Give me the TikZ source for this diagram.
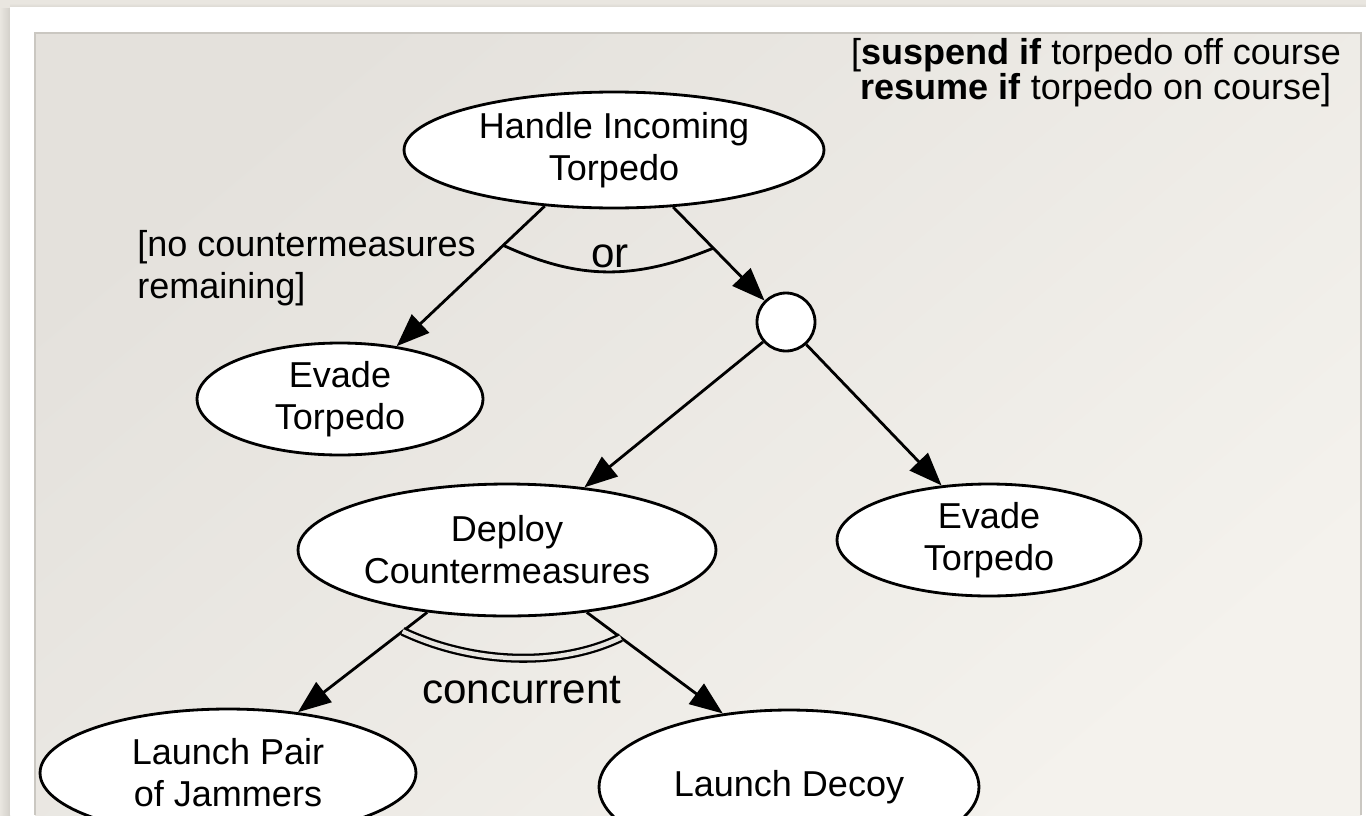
\documentclass[tikz,border=0pt]{standalone}
\usepackage{fontspec}
\setmainfont{Liberation Sans}
\usetikzlibrary{arrows.meta,shapes.geometric}

\definecolor{canvas}{HTML}{E9E6E0}
\definecolor{matshadow}{HTML}{D3D0CA}
\definecolor{paneltop}{HTML}{E4E1DC}
\definecolor{panelmid}{HTML}{E7E5E0}
\definecolor{panelbottom}{HTML}{F4F2ED}
\definecolor{paneledge}{HTML}{CAC7C1}

\begin{document}
\begin{tikzpicture}[x=0.02cm, y=-0.02cm,
  every node/.style={font=\fontsize{20.5}{24}\selectfont},
  task/.style={ellipse, draw=black, fill=white, line width=1.6pt,
    inner sep=0pt, align=center},
  junction/.style={circle, draw=black, fill=white, line width=1.6pt,
    inner sep=0pt, minimum size=1.16cm},
  link/.style={line width=1.6pt, -{Triangle[length=0.66cm, width=0.5cm]}},
  guard/.style={inner sep=0pt},
  bigword/.style={inner sep=0pt, font=\fontsize{24}{28}\selectfont},
  orbar/.style={line width=1.6pt},
  andbar/.style={line width=1.3pt, double=panelmid, double distance=0.09cm},
]

% page, mat and panel
\useasboundingbox (0,0) rectangle (1366,815);
\clip (0,0) rectangle (1366,815);
\fill[canvas] (0,0) rectangle (1366,815);
\shade[left color=canvas, right color=matshadow] (0,8) rectangle (10,815);
\shade[top color=canvas, bottom color=matshadow!60!canvas] (10,3) rectangle (1366,7);
\fill[white] (10,7) rectangle (1366,815);
\shade[top color=paneltop, middle color=panelmid, bottom color=panelbottom,
  shading angle=40] (35,33) rectangle (1361,815);
\draw[paneledge, line width=0.6pt] (35,815) -- (35,33) -- (1361,33) -- (1361,815);

% goal tree
\node[task, minimum width=8.4cm, minimum height=2.32cm] (hit) at (614,150)
  {Handle Incoming\\Torpedo};
\node[task, minimum width=5.72cm, minimum height=2.24cm] (evl) at (340,399)
  {Evade\\Torpedo};
\node[junction] (jn) at (786,322) {};
\node[task, minimum width=8.36cm, minimum height=2.64cm] (dep) at (507,550)
  {Deploy\\Countermeasures};
\node[task, minimum width=6.08cm, minimum height=2.24cm] (evr) at (989,540)
  {Evade\\Torpedo};
\node[task, minimum width=7.52cm, minimum height=2.56cm] (lpj) at (228,773)
  {Launch Pair\\of Jammers};
\node[task, minimum width=7.6cm, minimum height=3.08cm] (ldc) at (789,787)
  {Launch Decoy};

% decompositions
\draw[link] (hit.-141) -- (evl.43) coordinate[pos=0.28] (orL);
\draw[link] (hit.-44) -- (jn.135) coordinate[pos=0.44] (orR);
\draw[link] (jn.-139) -- (dep.39);
\draw[link] (jn.-48) -- (evr.131);
\draw[link] (dep.-142) -- (lpj.41) coordinate[pos=0.19] (ccL);
\draw[link] (dep.-38) -- (ldc.132) coordinate[pos=0.25] (ccR);

% or / concurrent bars
\draw[orbar] (orL) .. controls +(72,33) and +(-83,34) .. (orR);
\draw[andbar] (ccL) .. controls +(70,33) and +(-62,30) .. (ccR);

% labels
\node[bigword, anchor=base] (orword) at (610,267) {or};
\node[bigword, anchor=base] (ccword) at (522,703) {concurrent};
\node[guard, align=left, anchor=west] (nocm) at (137,268)
  {[no countermeasures\\remaining]};
\node[guard, align=center, anchor=north,
  font=\fontsize{20.5}{19.8}\selectfont] (susp) at (1096,38)
  {[\textbf{suspend if} torpedo off course\\\textbf{resume if} torpedo on course]};

\end{tikzpicture}
\end{document}
